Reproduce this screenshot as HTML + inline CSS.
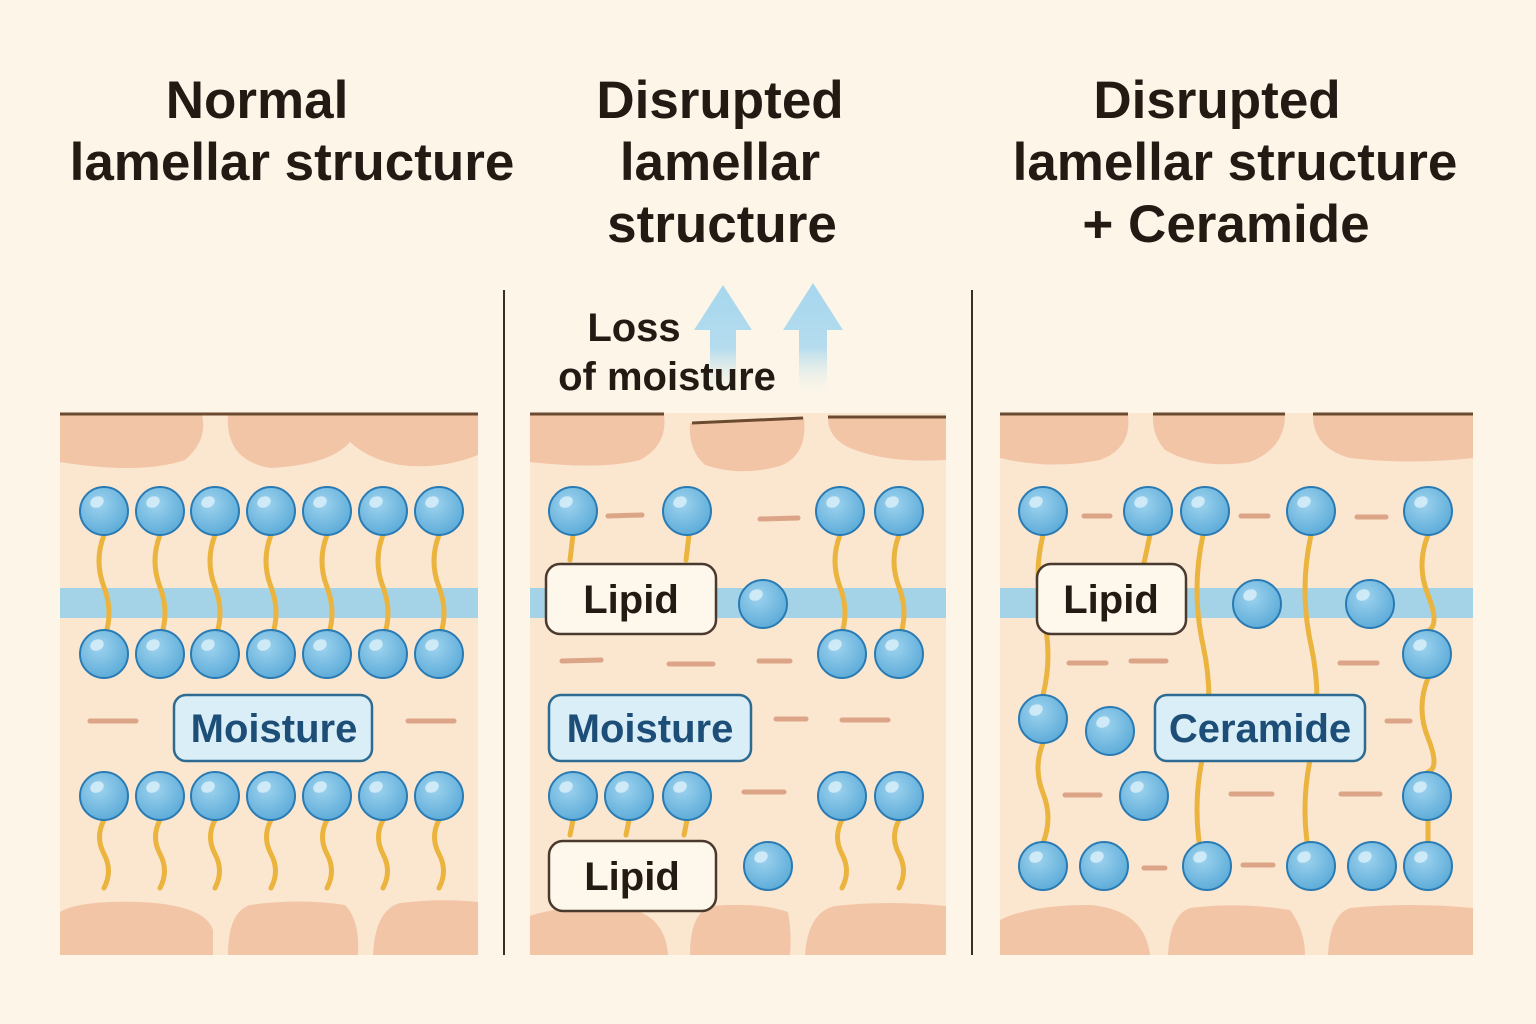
<!DOCTYPE html>
<html><head><meta charset="utf-8"><style>
html,body{margin:0;padding:0;background:#fdf6e8;}
svg{display:block}
text{font-family:"Liberation Sans","DejaVu Sans",sans-serif;font-weight:bold}
</style></head><body>
<svg width="1536" height="1024" viewBox="0 0 1536 1024" xmlns="http://www.w3.org/2000/svg">
<defs>
<radialGradient id="bg" cx="0.4" cy="0.35" r="0.7">
<stop offset="0" stop-color="#9ed3ee"/><stop offset="1" stop-color="#5aaad8"/></radialGradient>
<g id="b"><circle r="24" fill="url(#bg)" stroke="#2a7bb3" stroke-width="2"/><ellipse cx="-7" cy="-9" rx="7" ry="5.5" fill="#d8eff9" opacity="0.85" transform="rotate(-25 -7 -9)"/></g>
<linearGradient id="ar" x1="0" y1="0" x2="0" y2="1"><stop offset="0" stop-color="#a6d6ee"/><stop offset="0.55" stop-color="#b5dcee"/><stop offset="1" stop-color="#fdf6e8" stop-opacity="0"/></linearGradient>
</defs>
<rect width="1536" height="1024" fill="#fdf6e8"/>
<g fill="#231a14" font-size="53" text-anchor="middle">
<text x="257" y="118">Normal</text>
<text x="292" y="180">lamellar structure</text>
<text x="720" y="118">Disrupted</text>
<text x="720" y="180">lamellar</text>
<text x="722" y="242">structure</text>
<text x="1217" y="118">Disrupted</text>
<text x="1235" y="180">lamellar structure</text>
<text x="1226" y="242">+ Ceramide</text>
</g>
<line x1="504" y1="290" x2="504" y2="955" stroke="#3a2e26" stroke-width="2"/>
<line x1="972" y1="290" x2="972" y2="955" stroke="#3a2e26" stroke-width="2"/>
<rect x="60" y="413" width="418" height="542" fill="#fbe6d0"/>
<rect x="530" y="413" width="416" height="542" fill="#fbe6d0"/>
<rect x="1000" y="413" width="473" height="542" fill="#fbe6d0"/>
<g fill="#f2c5a7">
<path d="M60 415 H202 Q208 440 185 460 Q140 475 60 462 Z"/>
<path d="M228 415 H478 V455 Q440 470 400 465 Q370 460 350 442 Q330 465 270 468 Q225 460 228 415 Z"/>
<path d="M60 955 V912 Q80 900 140 902 Q205 905 213 930 V955 Z"/>
<path d="M228 955 Q228 912 250 905 Q300 898 345 905 Q360 920 358 955 Z"/>
<path d="M373 955 Q375 910 400 903 Q440 898 478 902 V955 Z"/>
<path d="M530 415 H664 Q668 445 640 460 Q600 470 530 462 Z"/>
<path d="M690 423 L804 418 Q808 455 780 466 Q740 477 705 465 Q688 450 690 423 Z"/>
<path d="M828 418 H946 V460 Q890 463 855 450 Q828 440 828 418 Z"/>
<path d="M530 955 V916 Q560 905 620 907 Q665 912 668 955 Z"/>
<path d="M690 955 Q690 912 712 906 Q760 902 788 912 Q792 935 790 955 Z"/>
<path d="M805 955 Q808 912 835 906 Q890 900 946 906 V955 Z"/>
<path d="M1000 415 H1128 Q1132 448 1100 460 Q1050 470 1000 458 Z"/>
<path d="M1153 415 H1285 Q1285 448 1250 462 Q1200 470 1165 450 Q1152 435 1153 415 Z"/>
<path d="M1313 415 H1473 V458 Q1410 465 1350 458 Q1313 448 1313 415 Z"/>
<path d="M1000 955 V920 Q1030 905 1090 905 Q1145 910 1150 955 Z"/>
<path d="M1168 955 Q1170 915 1190 908 Q1240 902 1290 910 Q1305 930 1305 955 Z"/>
<path d="M1328 955 Q1330 915 1350 908 Q1410 902 1473 908 V955 Z"/>
</g>
<g stroke="#6b4a30" stroke-width="3">
<line x1="60" y1="414" x2="478" y2="414"/>
<line x1="530" y1="414" x2="664" y2="414"/>
<line x1="692" y1="423" x2="803" y2="418"/>
<line x1="828" y1="417" x2="946" y2="417"/>
<line x1="1000" y1="414" x2="1128" y2="414"/>
<line x1="1153" y1="414" x2="1285" y2="414"/>
<line x1="1313" y1="414" x2="1473" y2="414"/>
</g>
<rect x="60" y="588" width="418" height="30" fill="#a4d2e7"/>
<rect x="530" y="588" width="416" height="30" fill="#a4d2e7"/>
<rect x="1000" y="588" width="473" height="30" fill="#a4d2e7"/>
<path d="M723 285 L752 330 H736 V400 H710 V330 H694 Z" fill="url(#ar)"/>
<path d="M813 283 L843 330 H827 V400 H799 V330 H783 Z" fill="url(#ar)"/>
<g fill="#231a14" font-size="40" text-anchor="middle">
<text x="634" y="341">Loss</text>
<text x="667" y="390">of moisture</text>
</g>
<g fill="none" stroke="#ebb43e" stroke-width="5" stroke-linecap="round">
<path d="M104 535 q-10 26 0 52 t0 52"/><path d="M160 535 q-10 26 0 52 t0 52"/><path d="M215 535 q-10 26 0 52 t0 52"/><path d="M271 535 q-10 26 0 52 t0 52"/><path d="M327 535 q-10 26 0 52 t0 52"/><path d="M383 535 q-10 26 0 52 t0 52"/><path d="M439 535 q-10 26 0 52 t0 52"/>
<path d="M104 820 q-9 17 0 34 t0 34"/><path d="M160 820 q-9 17 0 34 t0 34"/><path d="M215 820 q-9 17 0 34 t0 34"/><path d="M271 820 q-9 17 0 34 t0 34"/><path d="M327 820 q-9 17 0 34 t0 34"/><path d="M383 820 q-9 17 0 34 t0 34"/><path d="M439 820 q-9 17 0 34 t0 34"/>
<path d="M573 535 l-3 25"/><path d="M689 535 l-3 25"/>
<path d="M840 535 q-10 26 0 52 t0 52"/><path d="M899 535 q-10 26 0 52 t0 52"/>
<path d="M573 820 l-3 15"/><path d="M629 820 l-3 15"/><path d="M687 820 l-3 15"/>
<path d="M842 820 q-9 17 0 34 t0 34"/><path d="M899 820 q-9 17 0 34 t0 34"/>
<path d="M1043 535 q-10 40 0 80 t0 80"/><path d="M1043 743 q-10 25 0 50 t0 50"/>
<path d="M1150 535 l-6 28"/>
<path d="M1203 535 q-12 55 0 110 t0 110 t0 110"/>
<path d="M1311 535 q-12 55 0 110 t0 110 t0 110"/>
<path d="M1428 535 q-12 30 0 60 t0 36"/><path d="M1428 678 q-12 30 0 60 t0 34"/><path d="M1428 820 v22"/>
</g>
<g stroke="#dca587" stroke-width="5" stroke-linecap="round">
<line x1="90" y1="721" x2="136" y2="721"/><line x1="408" y1="721" x2="454" y2="721"/>
<line x1="608" y1="516" x2="642" y2="515"/><line x1="760" y1="519" x2="798" y2="518"/>
<line x1="562" y1="661" x2="601" y2="660"/><line x1="669" y1="664" x2="713" y2="664"/><line x1="759" y1="661" x2="790" y2="661"/>
<line x1="776" y1="719" x2="806" y2="719"/><line x1="842" y1="720" x2="888" y2="720"/><line x1="744" y1="792" x2="784" y2="792"/>
<line x1="1084" y1="516" x2="1110" y2="516"/><line x1="1241" y1="516" x2="1268" y2="516"/><line x1="1357" y1="517" x2="1386" y2="517"/>
<line x1="1069" y1="663" x2="1106" y2="663"/><line x1="1131" y1="661" x2="1166" y2="661"/><line x1="1340" y1="663" x2="1377" y2="663"/>
<line x1="1387" y1="721" x2="1410" y2="721"/>
<line x1="1065" y1="795" x2="1100" y2="795"/><line x1="1231" y1="794" x2="1272" y2="794"/><line x1="1341" y1="794" x2="1380" y2="794"/>
<line x1="1144" y1="868" x2="1165" y2="868"/><line x1="1243" y1="865" x2="1273" y2="865"/>
</g>
<g>
<use href="#b" x="104" y="511"/><use href="#b" x="160" y="511"/><use href="#b" x="215" y="511"/><use href="#b" x="271" y="511"/><use href="#b" x="327" y="511"/><use href="#b" x="383" y="511"/><use href="#b" x="439" y="511"/>
<use href="#b" x="104" y="654"/><use href="#b" x="160" y="654"/><use href="#b" x="215" y="654"/><use href="#b" x="271" y="654"/><use href="#b" x="327" y="654"/><use href="#b" x="383" y="654"/><use href="#b" x="439" y="654"/>
<use href="#b" x="104" y="796"/><use href="#b" x="160" y="796"/><use href="#b" x="215" y="796"/><use href="#b" x="271" y="796"/><use href="#b" x="327" y="796"/><use href="#b" x="383" y="796"/><use href="#b" x="439" y="796"/>
<use href="#b" x="573" y="511"/><use href="#b" x="687" y="511"/><use href="#b" x="840" y="511"/><use href="#b" x="899" y="511"/>
<use href="#b" x="763" y="604"/><use href="#b" x="842" y="654"/><use href="#b" x="899" y="654"/>
<use href="#b" x="573" y="796"/><use href="#b" x="629" y="796"/><use href="#b" x="687" y="796"/><use href="#b" x="842" y="796"/><use href="#b" x="899" y="796"/>
<use href="#b" x="768" y="866"/>
<use href="#b" x="1043" y="511"/><use href="#b" x="1148" y="511"/><use href="#b" x="1205" y="511"/><use href="#b" x="1311" y="511"/><use href="#b" x="1428" y="511"/>
<use href="#b" x="1257" y="604"/><use href="#b" x="1370" y="604"/><use href="#b" x="1427" y="654"/>
<use href="#b" x="1043" y="719"/><use href="#b" x="1110" y="731"/>
<use href="#b" x="1144" y="796"/><use href="#b" x="1427" y="796"/>
<use href="#b" x="1043" y="866"/><use href="#b" x="1104" y="866"/><use href="#b" x="1207" y="866"/><use href="#b" x="1311" y="866"/><use href="#b" x="1372" y="866"/><use href="#b" x="1428" y="866"/>
</g>
<g stroke-width="2.5">
<rect x="174" y="695" width="198" height="66" rx="12" fill="#d9eef6" stroke="#2d6b92"/>
<rect x="549" y="695" width="202" height="66" rx="12" fill="#d9eef6" stroke="#2d6b92"/>
<rect x="1155" y="695" width="210" height="66" rx="12" fill="#d9eef6" stroke="#2d6b92"/>
<rect x="546" y="564" width="170" height="70" rx="14" fill="#fef7ec" stroke="#4a3a2e"/>
<rect x="549" y="841" width="167" height="70" rx="14" fill="#fef7ec" stroke="#4a3a2e"/>
<rect x="1037" y="564" width="149" height="70" rx="14" fill="#fef7ec" stroke="#4a3a2e"/>
</g>
<g font-size="40" text-anchor="middle">
<text x="274" y="742" fill="#1d4e78">Moisture</text>
<text x="650" y="742" fill="#1d4e78">Moisture</text>
<text x="1260" y="742" fill="#1d4e78">Ceramide</text>
<text x="631" y="613" fill="#231a14">Lipid</text>
<text x="632" y="890" fill="#231a14">Lipid</text>
<text x="1111" y="613" fill="#231a14">Lipid</text>
</g>
</svg>
</body></html>
